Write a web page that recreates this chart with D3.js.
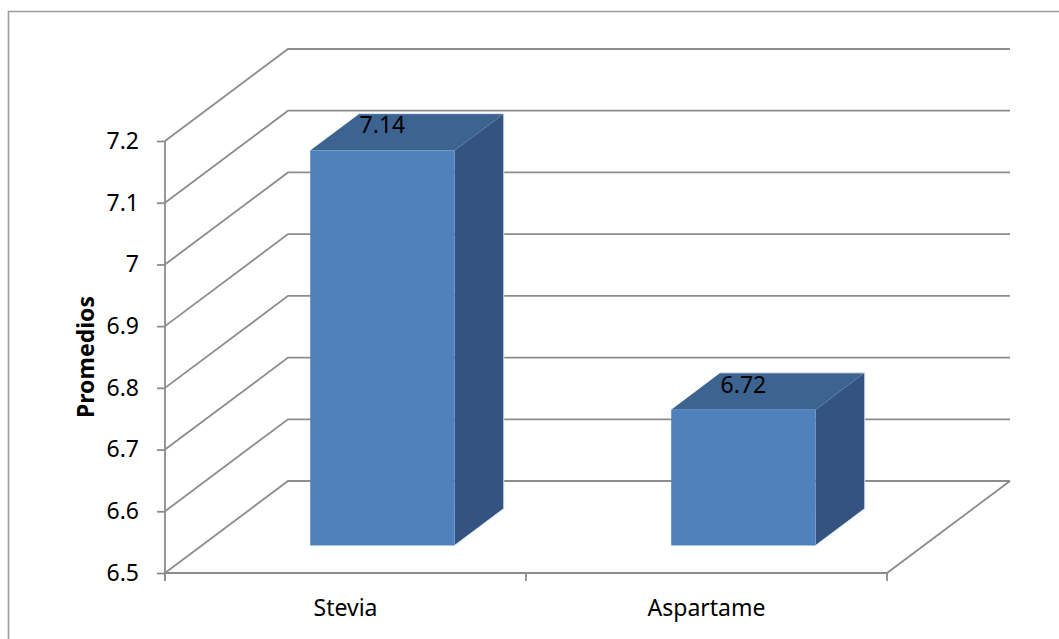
<!DOCTYPE html>
<html>
  <head>
    <meta charset="UTF-8">
    <title>Promedios 3D</title>
    <style>
      body {margin: 0; background-color: #ffffff;}
      #chart svg {display: block;}
      text {font-family: "Noto Sans", "Open Sans", sans-serif; fill: #000;}
      .grid {fill: none; stroke: #8c8c8c; stroke-width: 1.8;}
      .axis path, .axis line {stroke: #8c8c8c; stroke-width: 1.8;}
    </style>
  </head>
  <body>
    <div id="chart"></div>
    <script src="https://d3js.org/d3.v7.min.js"></script>
    <script>
      const categories = ["Stevia", "Aspartame"];
      const values = [7.14, 6.72];
      const yTicks = [6.5, 6.6, 6.7, 6.8, 6.9, 7.0, 7.1, 7.2];
      const yTitle = "Promedios";

      const width = 1059, height = 639;
      const plotLeft = 165, plotRight = 887, plotTop = 141, plotBottom = 573;
      // depth of the 3d box (full depth) and where the bars sit in it
      const DX = 123, DY = -92;
      const z0 = 0.3, z1 = 0.7;
      const fs = 23;

      const svg = d3.select("#chart").append("svg")
        .attr("width", width).attr("height", height);

      // outer frame (only top and left edges are in view)
      svg.append("path")
        .attr("d", `M8.5,${height + 10} V11.5 H${width + 10}`)
        .attr("fill", "none").attr("stroke", "#9d9d9d").attr("stroke-width", 1.6);

      const x = d3.scaleBand().domain(categories).range([plotLeft, plotRight])
        .paddingInner(0.6).paddingOuter(0.3);
      const y = d3.scaleLinear().domain([6.5, 7.2]).range([plotBottom, plotTop]);

      const proj = (px, py, z) => [px + z * DX, py + z * DY];
      const line = d3.line();

      // walls: each tick level goes back along the side wall, then along the back wall
      const backRight = plotRight + DX;
      yTicks.forEach(v => {
        const a = [plotLeft, y(v)], b = proj(plotLeft, y(v), 1), c = [backRight, y(v) + DY];
        svg.append("path").attr("class", "grid").attr("d", line([a, b, c]));
      });
      // floor
      svg.append("path").attr("class", "grid")
        .attr("d", line([[plotLeft, plotBottom], [plotRight, plotBottom], proj(plotRight, plotBottom, 1)]));

      // y axis
      const yAxis = d3.axisLeft(y).tickValues(yTicks).tickSize(8).tickPadding(18)
        .tickFormat(d => String(+d.toFixed(1)));
      const gy = svg.append("g").attr("class", "axis")
        .attr("transform", `translate(${plotLeft},0)`).call(yAxis);
      gy.select(".domain").attr("d", `M0,${plotTop}V${plotBottom + 8}`).attr("fill", "none");
      gy.selectAll("text").attr("font-size", fs).attr("font-family", "Noto Sans");

      // x axis: labels in the middle of each band, ticks on the band edges
      const xAxis = d3.axisBottom(x).tickSize(0).tickPadding(27);
      const gx = svg.append("g").attr("class", "axis")
        .attr("transform", `translate(0,${plotBottom})`).call(xAxis);
      gx.select(".domain").remove();
      gx.selectAll("text").attr("font-size", fs).attr("font-family", "Noto Sans");
      const edges = d3.range(categories.length + 1).map(i => plotLeft + i * x.step());
      svg.selectAll(".xtick").data(edges).join("line")
        .attr("class", "xtick")
        .attr("x1", d => d).attr("x2", d => d)
        .attr("y1", plotBottom).attr("y2", plotBottom + 8)
        .attr("stroke", "#8c8c8c").attr("stroke-width", 1.8);

      svg.append("text")
        .attr("transform", `translate(86,${(plotTop + plotBottom) / 2}) rotate(-90)`)
        .attr("text-anchor", "middle").attr("dy", "0.35em")
        .attr("font-size", fs).attr("font-weight", "bold")
        .text(yTitle);

      // bars
      const bars = categories.map((c, i) => ({name: c, value: values[i]}));
      const g = svg.selectAll(".bar").data(bars).join("g").attr("class", "bar");

      const faces = d => {
        const xl = x(d.name), xr = x(d.name) + x.bandwidth();
        const yt = y(d.value), yb = y(6.5);
        return {
          front: [proj(xl, yt, z0), proj(xr, yt, z0), proj(xr, yb, z0), proj(xl, yb, z0)],
          top: [proj(xl, yt, z0), proj(xl, yt, z1), proj(xr, yt, z1), proj(xr, yt, z0)],
          side: [proj(xr, yt, z0), proj(xr, yt, z1), proj(xr, yb, z1), proj(xr, yb, z0)]
        };
      };

      g.append("path").attr("d", d => line(faces(d).side) + "Z").attr("fill", "#335480");
      g.append("path").attr("d", d => line(faces(d).top) + "Z").attr("fill", "#3d6491");
      g.append("path").attr("d", d => line(faces(d).front) + "Z").attr("fill", "#4f81bd");
      g.append("path")
        .attr("d", d => { const f = faces(d); return line([f.top[1], f.top[2], f.side[2], f.side[3]]); })
        .attr("fill", "none").attr("stroke", "#dce6f2").attr("stroke-width", 1);

      g.append("text")
        .attr("x", d => proj(x(d.name) + x.bandwidth() / 2, 0, z0)[0])
        .attr("y", d => proj(0, y(d.value), z0)[1] - 17)
        .attr("text-anchor", "middle").attr("font-size", fs)
        .text(d => d.value.toFixed(2));
    </script>
  </body>
</html>
